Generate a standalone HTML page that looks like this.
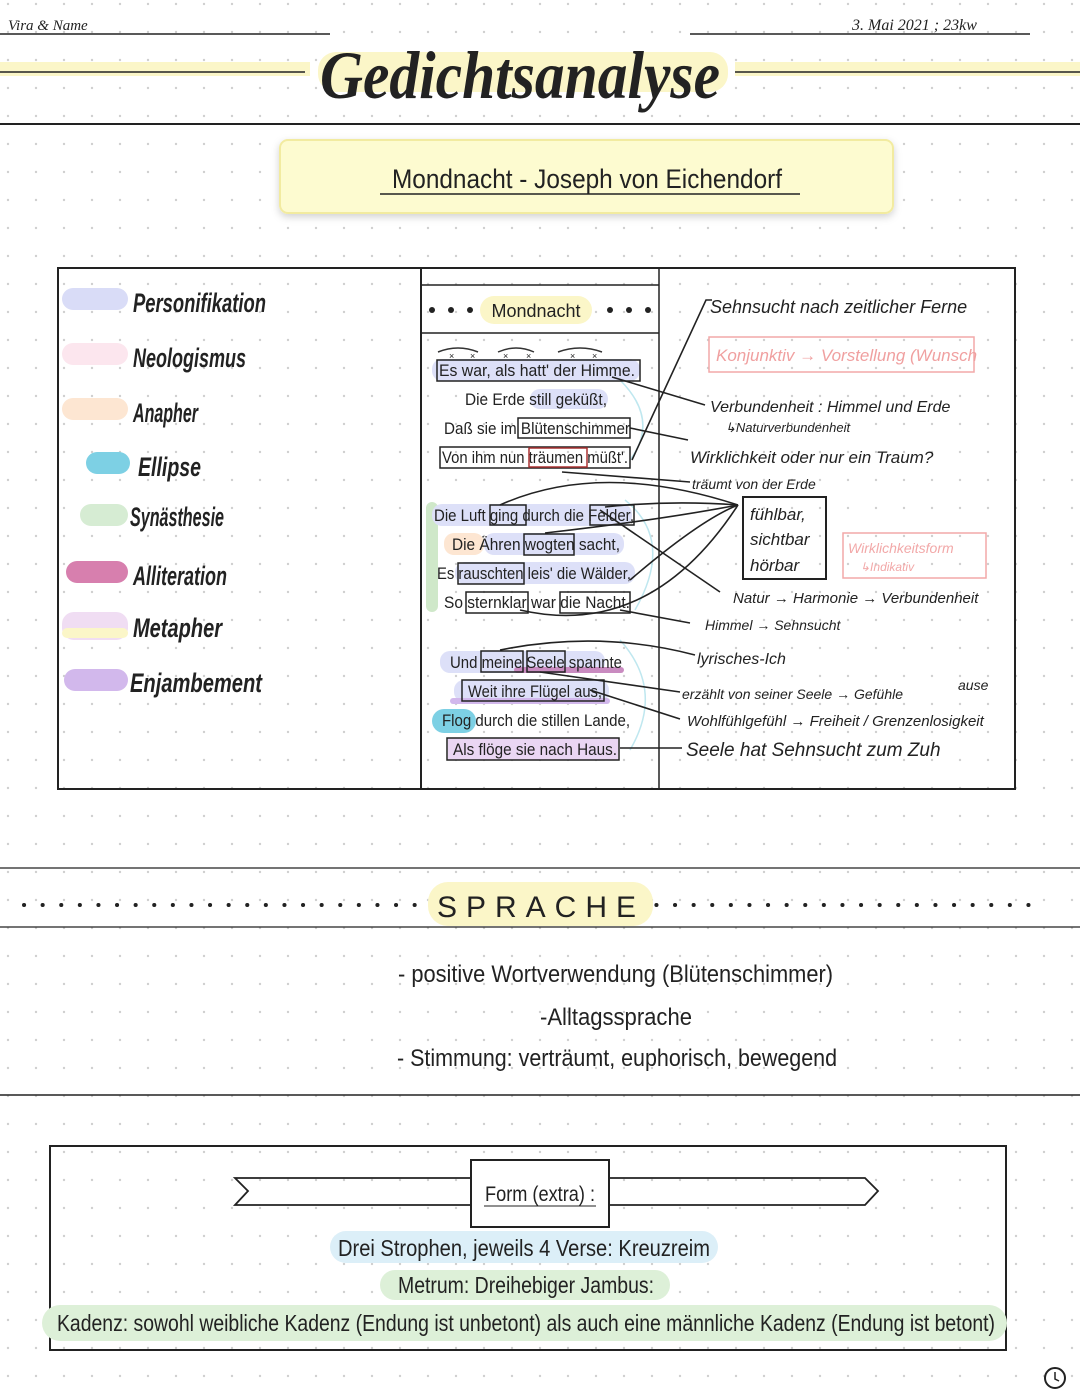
<!DOCTYPE html>
<html><head><meta charset="utf-8"><style>
html,body{margin:0;padding:0;background:#fff}
svg{display:block}
text{font-family:"Liberation Sans",sans-serif;fill:#222}
.h{font-family:"Liberation Sans Narrow","Liberation Sans",sans-serif}
.s{font-family:"Liberation Serif",serif;font-style:italic}
</style></head><body>
<svg width="1080" height="1394" viewBox="0 0 1080 1394" xmlns="http://www.w3.org/2000/svg">
<defs>
<pattern id="dots" width="28" height="28" patternUnits="userSpaceOnUse" x="6" y="2">
<circle cx="2" cy="2" r="1.2" fill="#cfcfcf"/></pattern>
<filter id="sh" x="-10%" y="-30%" width="120%" height="160%"><feDropShadow dx="0" dy="3" stdDeviation="4" flood-color="#000" flood-opacity="0.18"/></filter>
</defs>
<rect width="1080" height="1394" fill="#fff"/>
<rect width="1080" height="1394" fill="url(#dots)"/>

<!-- header -->
<text x="8" y="30" font-size="15" class="s">Vira &amp; Name</text>
<line x1="0" y1="34" x2="330" y2="34" stroke="#222" stroke-width="1.5"/>
<line x1="690" y1="34" x2="1030" y2="34" stroke="#222" stroke-width="1.5"/>
<text x="852" y="30" font-size="16" class="s">3. Mai 2021   ;  23kw</text>
<rect x="0" y="62" width="310" height="14" fill="#fbf6c8"/>
<line x1="0" y1="72" x2="305" y2="72" stroke="#222" stroke-width="1.5"/>
<rect x="735" y="62" width="345" height="14" fill="#fbf6c8"/>
<line x1="735" y1="72" x2="1080" y2="72" stroke="#222" stroke-width="1.5"/>
<rect x="318" y="52" width="410" height="40" rx="18" fill="#fbf6c8"/>
<text x="520" y="98" font-size="68" text-anchor="middle" class="s" font-weight="bold" textLength="400" lengthAdjust="spacingAndGlyphs">Gedichtsanalyse</text>
<line x1="0" y1="124" x2="1080" y2="124" stroke="#222" stroke-width="2"/>

<!-- title box -->
<rect x="280" y="140" width="613" height="73" rx="8" fill="#fdfbd0" stroke="#f2eba0" stroke-width="2" filter="url(#sh)"/>
<text x="587" y="188" font-size="27" text-anchor="middle" class="h" textLength="390" lengthAdjust="spacingAndGlyphs">Mondnacht - Joseph von Eichendorf</text>
<line x1="380" y1="194" x2="800" y2="194" stroke="#222" stroke-width="1.5"/>

<!-- main box -->
<rect x="58" y="268" width="957" height="521" fill="none" stroke="#222" stroke-width="2"/>
<line x1="421" y1="268" x2="421" y2="789" stroke="#222" stroke-width="2"/>
<line x1="659" y1="268" x2="659" y2="789" stroke="#222" stroke-width="1.5"/>
<line x1="421" y1="285" x2="659" y2="285" stroke="#222" stroke-width="1.5"/>
<line x1="421" y1="333" x2="659" y2="333" stroke="#222" stroke-width="1.5"/>

<!-- legend -->
<g font-size="27" class="s" font-weight="bold">
<rect x="62" y="288" width="66" height="22" rx="11" fill="#d9dcf7"/><text x="133" y="312" textLength="133" lengthAdjust="spacingAndGlyphs">Personifikation</text>
<rect x="62" y="343" width="66" height="22" rx="11" fill="#fce6ee"/><text x="133" y="367" textLength="113" lengthAdjust="spacingAndGlyphs">Neologismus</text>
<rect x="62" y="398" width="66" height="22" rx="11" fill="#fde6d2"/><text x="133" y="422" textLength="65" lengthAdjust="spacingAndGlyphs">Anapher</text>
<rect x="86" y="452" width="44" height="22" rx="11" fill="#7dd0e4"/><text x="138" y="476" textLength="63" lengthAdjust="spacingAndGlyphs">Ellipse</text>
<rect x="80" y="504" width="48" height="22" rx="11" fill="#d6ecd3"/><text x="130" y="526" textLength="94" lengthAdjust="spacingAndGlyphs">Synästhesie</text>
<rect x="66" y="561" width="62" height="22" rx="11" fill="#d77fae"/><text x="133" y="585" textLength="94" lengthAdjust="spacingAndGlyphs">Alliteration</text>
<rect x="62" y="612" width="66" height="28" rx="12" fill="#f0ddf3"/><rect x="62" y="628" width="66" height="10" rx="5" fill="#fbf6c8"/><text x="133" y="637" textLength="89" lengthAdjust="spacingAndGlyphs">Metapher</text>
<rect x="64" y="669" width="64" height="22" rx="11" fill="#d2b8ec"/><text x="130" y="692" textLength="132" lengthAdjust="spacingAndGlyphs">Enjambement</text>
</g>

<!-- Mondnacht header -->
<g fill="#222"><circle cx="432" cy="310" r="3"/><circle cx="451" cy="310" r="3"/><circle cx="470" cy="310" r="3"/>
<circle cx="610" cy="310" r="3"/><circle cx="629" cy="310" r="3"/><circle cx="648" cy="310" r="3"/></g>
<rect x="480" y="296" width="112" height="28" rx="14" fill="#fbf6c8"/>
<text x="536" y="317" font-size="18" text-anchor="middle" class="h">Mondnacht</text>
<path d="M438 352 q20 -8 40 0 M498 352 q18 -8 36 0 M558 352 q22 -8 44 0" stroke="#333" fill="none" stroke-width="1.5"/>
<g font-size="9" fill="#4a8"><text x="449" y="359">×</text><text x="470" y="359">×</text><text x="503" y="359">×</text><text x="526" y="359">×</text><text x="570" y="359">×</text><text x="592" y="359">×</text></g>

<!-- highlights -->
<g>
<rect x="432" y="359" width="208" height="22" rx="10" fill="#dde0f8"/>
<rect x="530" y="389" width="78" height="20" rx="10" fill="#dde0f8"/>
<rect x="426" y="502" width="12" height="110" rx="6" fill="#cfe8c9"/>
<rect x="432" y="504" width="200" height="22" rx="10" fill="#dde0f8"/>
<rect x="444" y="533" width="40" height="22" rx="10" fill="#fde6d2"/>
<rect x="484" y="533" width="140" height="22" rx="10" fill="#dde0f8"/>
<rect x="455" y="562" width="180" height="22" rx="10" fill="#dde0f8"/>
<rect x="440" y="651" width="165" height="22" rx="10" fill="#dde0f8"/>
<rect x="514" y="667" width="110" height="6" rx="3" fill="#c98bc0"/>
<rect x="454" y="680" width="155" height="22" rx="10" fill="#dde0f8"/>
<rect x="450" y="698" width="160" height="6" rx="3" fill="#d2b8ec"/>
<rect x="432" y="709" width="44" height="24" rx="12" fill="#7dd0e4"/>
<rect x="448" y="738" width="170" height="22" fill="#ead6f3"/>
</g>
<path d="M620 380 q40 40 10 80 M625 500 q50 40 10 110 M620 640 q45 50 10 110" stroke="#bfe7ef" fill="none" stroke-width="1.5"/>

<!-- poem -->
<g font-size="16.5" class="h">
<text x="439" y="376" textLength="196" lengthAdjust="spacingAndGlyphs">Es war, als hatt' der Himme.</text>
<text x="465" y="405" textLength="142" lengthAdjust="spacingAndGlyphs">Die Erde still geküßt,</text>
<text x="444" y="434" textLength="186" lengthAdjust="spacingAndGlyphs">Daß sie im Blütenschimmer</text>
<text x="442" y="463" textLength="186" lengthAdjust="spacingAndGlyphs">Von ihm nun träumen müßt'.</text>
<text x="434" y="521" textLength="200" lengthAdjust="spacingAndGlyphs">Die Luft ging durch die Felder,</text>
<text x="452" y="550" textLength="168" lengthAdjust="spacingAndGlyphs">Die Ähren wogten sacht,</text>
<text x="437" y="579" textLength="194" lengthAdjust="spacingAndGlyphs">Es rauschten leis' die Wälder,</text>
<text x="444" y="608" textLength="186" lengthAdjust="spacingAndGlyphs">So sternklar war die Nacht.</text>
<text x="450" y="668" textLength="172" lengthAdjust="spacingAndGlyphs">Und meine Seele spannte</text>
<text x="468" y="697" textLength="134" lengthAdjust="spacingAndGlyphs">Weit ihre Flügel aus,</text>
<text x="442" y="726" textLength="188" lengthAdjust="spacingAndGlyphs">Flog durch die stillen Lande,</text>
<text x="453" y="755" textLength="164" lengthAdjust="spacingAndGlyphs">Als flöge sie nach Haus.</text>
</g>
<g fill="none" stroke="#222" stroke-width="1.5">
<rect x="437" y="360" width="203" height="21"/>
<rect x="518" y="418" width="112" height="20"/>
<rect x="440" y="447" width="190" height="21"/>
<rect x="529" y="448" width="58" height="19" stroke="#a33"/>
<rect x="490" y="505" width="36" height="20"/>
<rect x="590" y="505" width="44" height="20"/>
<rect x="524" y="534" width="50" height="21"/>
<rect x="458" y="563" width="66" height="21"/>
<rect x="466" y="592" width="62" height="21"/>
<rect x="560" y="592" width="70" height="21"/>
<rect x="481" y="651" width="42" height="21"/>
<rect x="527" y="651" width="38" height="21"/>
<rect x="462" y="680" width="142" height="21"/>
<rect x="447" y="738" width="172" height="22"/>
</g>

<!-- connectors -->
<g fill="none" stroke="#222" stroke-width="1.6">
<path d="M632 460 L706 300 L712 300"/>
<path d="M612 377 L705 405"/>
<path d="M630 428 L688 440"/>
<path d="M562 472 L690 482"/>
<path d="M500 505 Q600 460 738 505"/>
<path d="M605 507 Q670 500 738 505"/>
<path d="M545 533 Q660 520 738 505"/>
<path d="M630 580 Q700 520 738 505"/>
<path d="M520 610 Q650 640 738 505"/>
<path d="M600 510 L720 592"/>
<path d="M620 610 L690 623"/>
<path d="M500 650 Q600 630 695 655"/>
<path d="M540 672 L680 692"/>
<path d="M590 690 L680 719"/>
<path d="M620 748 L682 748"/>
</g>

<!-- annotations -->
<g class="s" fill="#222">
<text x="710" y="313" font-size="18">Sehnsucht nach zeitlicher Ferne</text>
<rect x="709" y="337" width="265" height="35" fill="none" stroke="#f2a8a8" stroke-width="1.5"/>
<text x="716" y="361" font-size="17" style="fill:#f0a0a0">Konjunktiv → Vorstellung (Wunsch</text>
<text x="710" y="412" font-size="16">Verbundenheit : Himmel und Erde</text>
<text x="725" y="432" font-size="13">↳Naturverbundenheit</text>
<text x="690" y="463" font-size="17">Wirklichkeit oder nur ein Traum?</text>
<text x="692" y="489" font-size="14">träumt von der Erde</text>
<rect x="743" y="497" width="83" height="82" fill="none" stroke="#222" stroke-width="2"/>
<text x="750" y="520" font-size="17">fühlbar,</text>
<text x="750" y="545" font-size="17">sichtbar</text>
<text x="750" y="571" font-size="17">hörbar</text>
<rect x="843" y="533" width="143" height="45" fill="none" stroke="#f2a8a8" stroke-width="1.5"/>
<text x="848" y="553" font-size="14" style="fill:#f2a8a8">Wirklichkeitsform</text>
<text x="860" y="571" font-size="12" style="fill:#f2a8a8">↳Indikativ</text>
<text x="733" y="603" font-size="15">Natur → Harmonie → Verbundenheit</text>
<text x="705" y="630" font-size="14">Himmel → Sehnsucht</text>
<text x="697" y="664" font-size="16">lyrisches-Ich</text>
<text x="682" y="699" font-size="14">erzählt von seiner Seele → Gefühle</text>
<text x="958" y="690" font-size="14">ause</text>
<text x="687" y="726" font-size="15">Wohlfühlgefühl → Freiheit / Grenzenlosigkeit</text>
<text x="686" y="756" font-size="19">Seele hat Sehnsucht zum Zuh</text>
</g>

<!-- Sprache -->
<line x1="0" y1="868" x2="1080" y2="868" stroke="#222" stroke-width="1.2"/>
<line x1="0" y1="927" x2="1080" y2="927" stroke="#222" stroke-width="1.2"/>
<line x1="24" y1="905" x2="1040" y2="905" stroke="#222" stroke-width="4" stroke-dasharray="0.1 18.5" stroke-linecap="round"/>
<rect x="428" y="882" width="225" height="44" rx="20" fill="#fbf6c8"/>
<text x="541" y="917" font-size="30" text-anchor="middle" class="h" letter-spacing="9">SPRACHE</text>
<g font-size="24" class="h">
<text x="398" y="982" textLength="435" lengthAdjust="spacingAndGlyphs">- positive Wortverwendung (Blütenschimmer)</text>
<text x="540" y="1025" textLength="152" lengthAdjust="spacingAndGlyphs">-Alltagssprache</text>
<text x="397" y="1066" textLength="440" lengthAdjust="spacingAndGlyphs">- Stimmung: verträumt, euphorisch, bewegend</text>
</g>
<line x1="0" y1="1095" x2="1080" y2="1095" stroke="#222" stroke-width="1.5"/>

<!-- Form -->
<rect x="50" y="1146" width="956" height="204" fill="none" stroke="#222" stroke-width="2"/>
<path d="M471 1178 L235 1178 L248 1191 L235 1205 L471 1205 M609 1178 L865 1178 L878 1191 L865 1205 L609 1205" fill="none" stroke="#222" stroke-width="1.8"/>
<rect x="471" y="1160" width="138" height="67" fill="#fff" stroke="#222" stroke-width="2"/>
<text x="540" y="1201" font-size="21" text-anchor="middle" class="h" textLength="110" lengthAdjust="spacingAndGlyphs">Form (extra) :</text>
<line x1="484" y1="1206" x2="596" y2="1206" stroke="#222" stroke-width="1"/>
<rect x="330" y="1231" width="388" height="32" rx="16" fill="#dceff8"/>
<rect x="380" y="1270" width="290" height="30" rx="15" fill="#ddf0d8"/>
<rect x="42" y="1305" width="965" height="36" rx="18" fill="#ddf0d8"/>
<g font-size="23" class="h">
<text x="524" y="1256" text-anchor="middle" textLength="372" lengthAdjust="spacingAndGlyphs">Drei Strophen, jeweils 4 Verse: Kreuzreim</text>
<text x="526" y="1293" text-anchor="middle" textLength="256" lengthAdjust="spacingAndGlyphs">Metrum: Dreihebiger Jambus:</text>
<text x="57" y="1331" textLength="938" lengthAdjust="spacingAndGlyphs">Kadenz: sowohl weibliche Kadenz (Endung ist unbetont) als auch eine männliche Kadenz (Endung ist betont)</text>
</g>
<circle cx="1055" cy="1378" r="10" fill="none" stroke="#222" stroke-width="2"/>
<path d="M1055 1372 L1055 1379 L1059 1381" stroke="#222" fill="none" stroke-width="1.5"/>
</svg>
</body></html>
